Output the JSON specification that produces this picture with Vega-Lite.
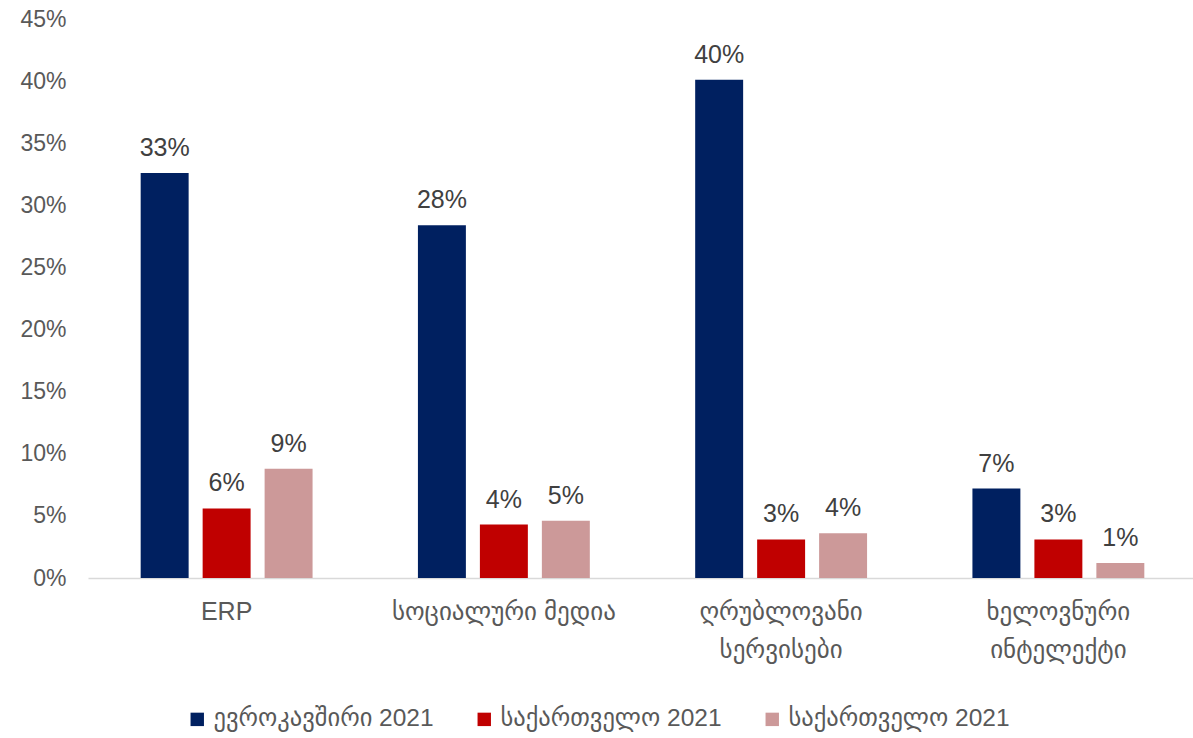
{
  "$schema": "https://vega.github.io/schema/vega-lite/v6.json",
  "autosize": {"type": "none"},
  "padding": {"left": 88, "top": 19, "right": 0, "bottom": 160},
  "width": 1109,
  "height": 559,
  "background": "white",
  "config": {
    "view": {"stroke": null},
    "font": "Liberation Sans, DejaVu Sans",
    "axis": {"labelColor": "#595959", "labelFont": "Liberation Sans, DejaVu Sans"},
    "legend": {"labelColor": "#595959", "labelFont": "Liberation Sans, DejaVu Sans"}
  },
  "data": {
    "values": [
      {"category": "ERP", "series": "eu", "value": 0.326},
      {"category": "ERP", "series": "ge1", "value": 0.056},
      {"category": "ERP", "series": "ge2", "value": 0.088},
      {"category": "სოციალური მედია", "series": "eu", "value": 0.284},
      {"category": "სოციალური მედია", "series": "ge1", "value": 0.043},
      {"category": "სოციალური მედია", "series": "ge2", "value": 0.046},
      {"category": "ღრუბლოვანი სერვისები", "series": "eu", "value": 0.401},
      {"category": "ღრუბლოვანი სერვისები", "series": "ge1", "value": 0.031},
      {"category": "ღრუბლოვანი სერვისები", "series": "ge2", "value": 0.036},
      {"category": "ხელოვნური ინტელექტი", "series": "eu", "value": 0.072},
      {"category": "ხელოვნური ინტელექტი", "series": "ge1", "value": 0.031},
      {"category": "ხელოვნური ინტელექტი", "series": "ge2", "value": 0.012}
    ]
  },
  "encoding": {
    "x": {
      "field": "category", "type": "nominal", "sort": null,
      "scale": {"paddingInner": 0.38, "paddingOuter": 0.19},
      "axis": {
        "title": null, "labelAngle": 0, "ticks": false,
        "domainColor": "#D9D9D9", "domainWidth": 1.5,
        "labelFontSize": 25, "labelPadding": 21, "labelLineHeight": 38, "labelLimit": 0,
        "labelExpr": "datum.value == 'ღრუბლოვანი სერვისები' ? ['ღრუბლოვანი','სერვისები'] : datum.value == 'ხელოვნური ინტელექტი' ? ['ხელოვნური','ინტელექტი'] : datum.value"
      }
    },
    "xOffset": {"field": "series", "type": "nominal", "sort": ["eu", "ge1", "ge2"], "scale": {"paddingInner": 0.226, "paddingOuter": 0}},
    "y": {
      "field": "value", "type": "quantitative",
      "scale": {"domain": [0, 0.45]},
      "axis": {
        "title": null, "format": ".0%", "values": [0, 0.05, 0.1, 0.15, 0.2, 0.25, 0.3, 0.35, 0.4, 0.45],
        "grid": false, "ticks": false, "domain": false,
        "labelFontSize": 23, "labelPadding": 22
      }
    }
  },
  "layer": [
    {
      "mark": {"type": "bar"},
      "encoding": {
        "color": {
          "field": "series", "type": "nominal",
          "scale": {"domain": ["eu", "ge1", "ge2"], "range": ["#002060", "#C00000", "#CC9999"]},
          "legend": {
            "title": null, "orient": "none", "legendX": 97, "legendY": 688, "direction": "horizontal",
            "symbolType": "square", "symbolSize": 180, "symbolStrokeWidth": 0,
            "labelFontSize": 24.5, "columnPadding": 38, "labelOffset": 4, "labelLimit": 0,
            "labelExpr": "datum.value == 'eu' ? 'ევროკავშირი 2021' : 'საქართველო 2021'"
          }
        }
      }
    },
    {
      "mark": {"type": "text", "baseline": "alphabetic", "dy": -17, "fontSize": 25, "color": "#404040"},
      "encoding": {
        "text": {"field": "value", "type": "quantitative", "format": ".0%"}
      }
    }
  ]
}
